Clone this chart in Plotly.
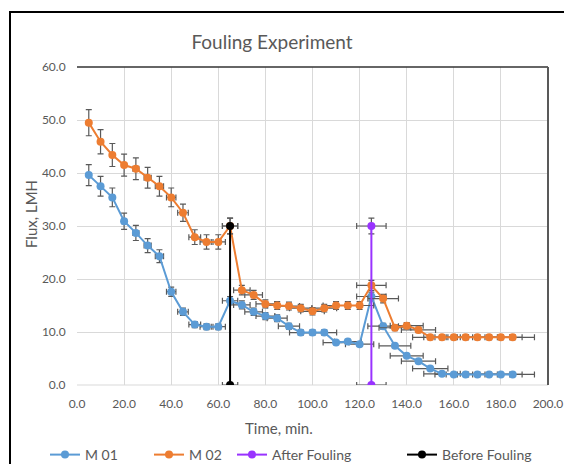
import plotly.graph_objects as go

time_m = [5, 10, 15, 20, 25, 30, 35, 40, 45, 50, 55, 60, 65, 70, 75, 80, 85, 90, 95,
          100, 105, 110, 115, 120, 125, 130, 135, 140, 145, 150, 155, 160, 165, 170,
          175, 180, 185]
m01 = [39.6, 37.5, 35.4, 30.9, 28.7, 26.3, 24.3, 17.6, 13.8, 11.4, 11.0, 11.0, 15.9,
       15.1, 13.8, 13.0, 12.6, 11.1, 9.9, 9.9, 9.9, 8.0, 8.2, 7.7, 16.7, 11.1, 7.4,
       5.5, 4.5, 3.1, 2.1, 2.0, 2.0, 2.0, 2.0, 2.0, 2.0]
m02 = [49.5, 45.9, 43.4, 41.5, 40.8, 39.1, 37.5, 35.4, 32.5, 27.9, 27.0, 27.0, 30.0,
       17.9, 17.0, 15.3, 15.0, 14.9, 14.5, 13.9, 14.5, 15.0, 15.0, 15.0, 18.8, 16.3,
       10.8, 11.2, 10.4, 9.0, 9.0, 9.0, 9.0, 9.0, 9.0, 9.0, 9.0]
after_x = [125, 125]
after_y = [0, 30]
before_x = [65, 65]
before_y = [0, 30]

x_ticks = [0, 20, 40, 60, 80, 100, 120, 140, 160, 180, 200]
y_ticks = [0, 10, 20, 30, 40, 50, 60]

FONT = "Lato"
TXT = "#595959"
ERR = "#595959"

def err(pct):
    return dict(type="percent", value=pct, color=ERR, thickness=1.2, width=3)

series = [
    ("M 01", time_m, m01, "#5B9BD5", "legend"),
    ("M 02", time_m, m02, "#ED7D31", "legend2"),
    ("After Fouling", after_x, after_y, "#9933FF", "legend3"),
    ("Before Fouling", before_x, before_y, "#000000", "legend4"),
]

fig = go.Figure()
for name, xs, ys, col, lg in series:
    fig.add_trace(go.Scatter(
        x=xs, y=ys, name=name, mode="lines+markers",
        line=dict(color=col, width=2),
        marker=dict(color=col, size=8),
        error_x=err(5), error_y=err(5),
        legend=lg,
    ))

leg_common = dict(orientation="h", xref="container", yref="container",
                  yanchor="middle", xanchor="left", bgcolor="rgba(0,0,0,0)",
                  font=dict(family=FONT, size=14, color=TXT))
leg_text_x = [85, 189, 272, 442]
legends = {}
for i, tx in enumerate(leg_text_x):
    key = "legend" if i == 0 else f"legend{i+1}"
    legends[key] = dict(leg_common, x=(tx - 40) / 564, y=1 - 455 / 464)

W, H = 564, 464
L, R, T, B = 77, 548, 67, 385
pw, ph = R - L, B - T

def px(xp):
    return (xp - L) / pw

def py(yp):
    return (B - yp) / ph

fig.update_layout(
    width=W, height=H,
    margin=dict(l=L, r=W - R, t=T, b=H - B, autoexpand=False),
    paper_bgcolor="white", plot_bgcolor="white",
    font=dict(family=FONT, color=TXT),
    title=dict(text="Fouling Experiment", x=272 / W, y=1 - 42 / H,
               xref="container", yref="container",
               xanchor="center", yanchor="middle",
               font=dict(family=FONT, size=19, color=TXT)),
    xaxis=dict(range=[0, 200], tickvals=x_ticks, tickformat=".1f",
               showgrid=True, gridcolor="#D9D9D9", gridwidth=1,
               zeroline=False, showline=False,
               ticks="outside", ticklen=8, tickcolor="rgba(0,0,0,0)",
               tickfont=dict(family=FONT, size=12, color=TXT)),
    yaxis=dict(range=[0, 60], tickvals=y_ticks, tickformat=".1f",
               showgrid=True, gridcolor="#D9D9D9", gridwidth=1,
               zeroline=False, showline=False,
               ticks="outside", ticklen=8, tickcolor="rgba(0,0,0,0)",
               tickfont=dict(family=FONT, size=12, color=TXT)),
    annotations=[
        dict(text="Time, min.", xref="paper", yref="paper",
             x=px(279), y=py(428), xanchor="center", yanchor="middle",
             showarrow=False, font=dict(family=FONT, size=15, color=TXT)),
        dict(text="Flux, LMH", xref="paper", yref="paper",
             x=px(31), y=py(214), xanchor="center", yanchor="middle",
             textangle=-90, showarrow=False,
             font=dict(family=FONT, size=15, color=TXT)),
    ],
    showlegend=True,
    shapes=[
        dict(type="line", xref="paper", yref="paper", x0=0, x1=1, y0=0, y1=0,
             line=dict(color="#D9D9D9", width=1), layer="below"),
        dict(type="line", xref="paper", yref="paper", x0=0, x1=1, y0=1, y1=1,
             line=dict(color="#333333", width=1.5)),
        dict(type="line", xref="paper", yref="paper", x0=1, x1=1, y0=0, y1=1,
             line=dict(color="#595959", width=2)),
        dict(type="rect", xref="paper", yref="paper",
             x0=px(10), x1=px(640), y0=py(12), y1=py(520),
             line=dict(color="#000000", width=2), fillcolor="rgba(0,0,0,0)"),
    ],
    **legends,
)

fig.write_html(
    "out.html",
    config={"displayModeBar": False},
    post_script="document.body.style.margin='0';document.body.style.overflow='hidden';",
)
